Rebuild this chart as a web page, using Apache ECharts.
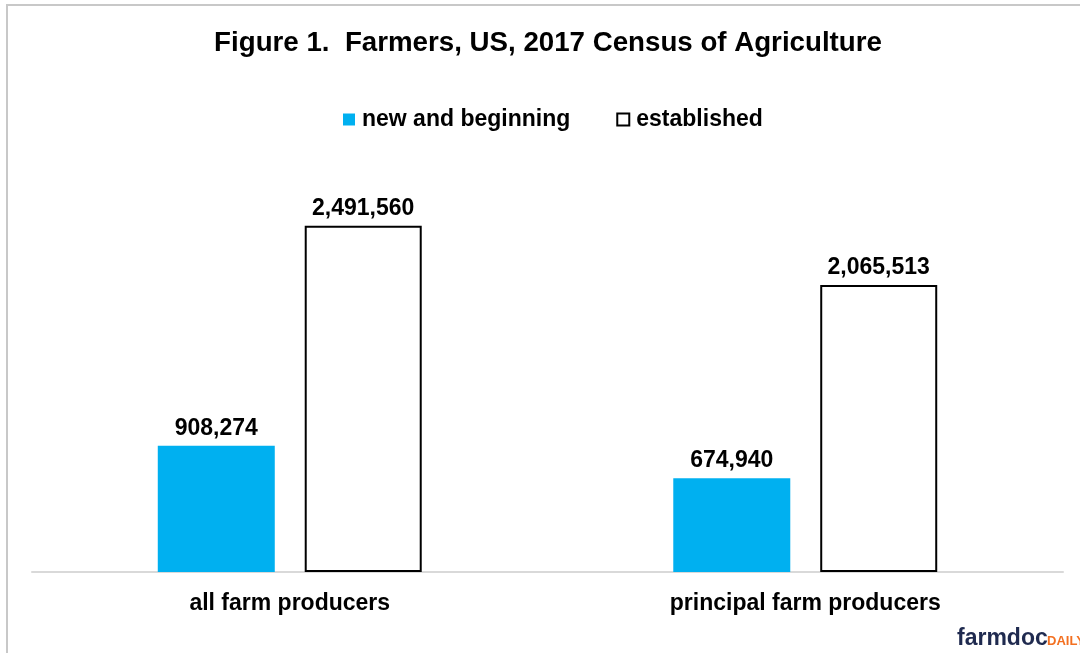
<!DOCTYPE html>
<html>
<head>
<meta charset="utf-8">
<script src="https://cdn.jsdelivr.net/npm/echarts@6/dist/echarts.min.js"></script>
<style>
  html, body { margin: 0; padding: 0; background: #fff; }
  #chart { width: 1080px; height: 653px; }
</style>
</head>
<body>
<div id="chart"></div>
<script>
// Farmers counted in the 2017 Census of Agriculture
const categories = ['all farm producers', 'principal farm producers'];
const seriesNames = ['new and beginning', 'established'];
const newAndBeginning = [908274, 674940];
const established = [2491560, 2065513];

const FONT = '"Liberation Sans", Arial, sans-serif';
const fmt = v => v.toLocaleString('en-US');

const chart = echarts.init(document.getElementById('chart'));

const valueLabel = {
  show: true, position: 'top', distance: 6,
  formatter: p => fmt(p.value),
  fontFamily: FONT, fontWeight: 'bold', fontSize: 23, color: '#000'
};

chart.setOption({
  backgroundColor: '#ffffff',
  animation: false,
  title: {
    text: 'Figure 1.  Farmers, US, 2017 Census of Agriculture',
    left: 543,
    textAlign: 'center',
    top: 24,
    textStyle: { fontFamily: FONT, fontWeight: 'bold', fontSize: 27.7, color: '#000' }
  },
  legend: {
    top: 103,
    left: 338,
    itemWidth: 12,
    itemHeight: 12,
    itemGap: 46,
    textStyle: { fontFamily: FONT, fontWeight: 'bold', fontSize: 23, color: '#000', padding: [0, 0, 0, 2] },
    data: [
      { name: seriesNames[0], icon: 'rect', itemStyle: { color: '#00b0f0', borderWidth: 0 } },
      { name: seriesNames[1], icon: 'rect', itemStyle: { color: '#ffffff', borderColor: '#000', borderWidth: 2 } }
    ]
  },
  grid: { left: 32, right: 17, top: 155, bottom: 81, containLabel: false },
  xAxis: {
    type: 'category',
    data: categories,
    axisLine: { show: true, lineStyle: { color: '#d9d9d9', width: 2 } },
    axisTick: { show: false },
    axisLabel: { margin: 20, fontFamily: FONT, fontWeight: 'bold', fontSize: 23, color: '#000' }
  },
  yAxis: {
    type: 'value',
    min: 0,
    max: 3000000,
    show: false,
    splitLine: { show: false }
  },
  series: [
    {
      name: seriesNames[0],
      type: 'bar',
      data: newAndBeginning,
      barWidth: 117,
      barGap: '25.6%',
      itemStyle: { color: '#00b0f0' },
      label: valueLabel
    },
    {
      name: seriesNames[1],
      type: 'bar',
      data: established,
      barWidth: 117,
      itemStyle: { color: '#ffffff', borderColor: '#000', borderWidth: 2 },
      label: valueLabel
    }
  ],
  graphic: [
    // frame around the figure
    {
      type: 'polyline',
      shape: { points: [[7, 653], [7, 5], [1080, 5]] },
      style: { stroke: '#c8c8c8', lineWidth: 2, fill: null },
      silent: true
    },
    // publisher mark
    {
      type: 'text',
      left: 957,
      top: 627,
      style: { text: 'farmdoc', fontFamily: FONT, fontWeight: 'bold', fontSize: 23, fill: '#1f2a4f' }
    },
    {
      type: 'text',
      left: 1047,
      top: 635,
      style: { text: 'DAILY', fontFamily: FONT, fontWeight: 'bold', fontSize: 13, fill: '#f37021' }
    }
  ]
});
</script>
</body>
</html>
